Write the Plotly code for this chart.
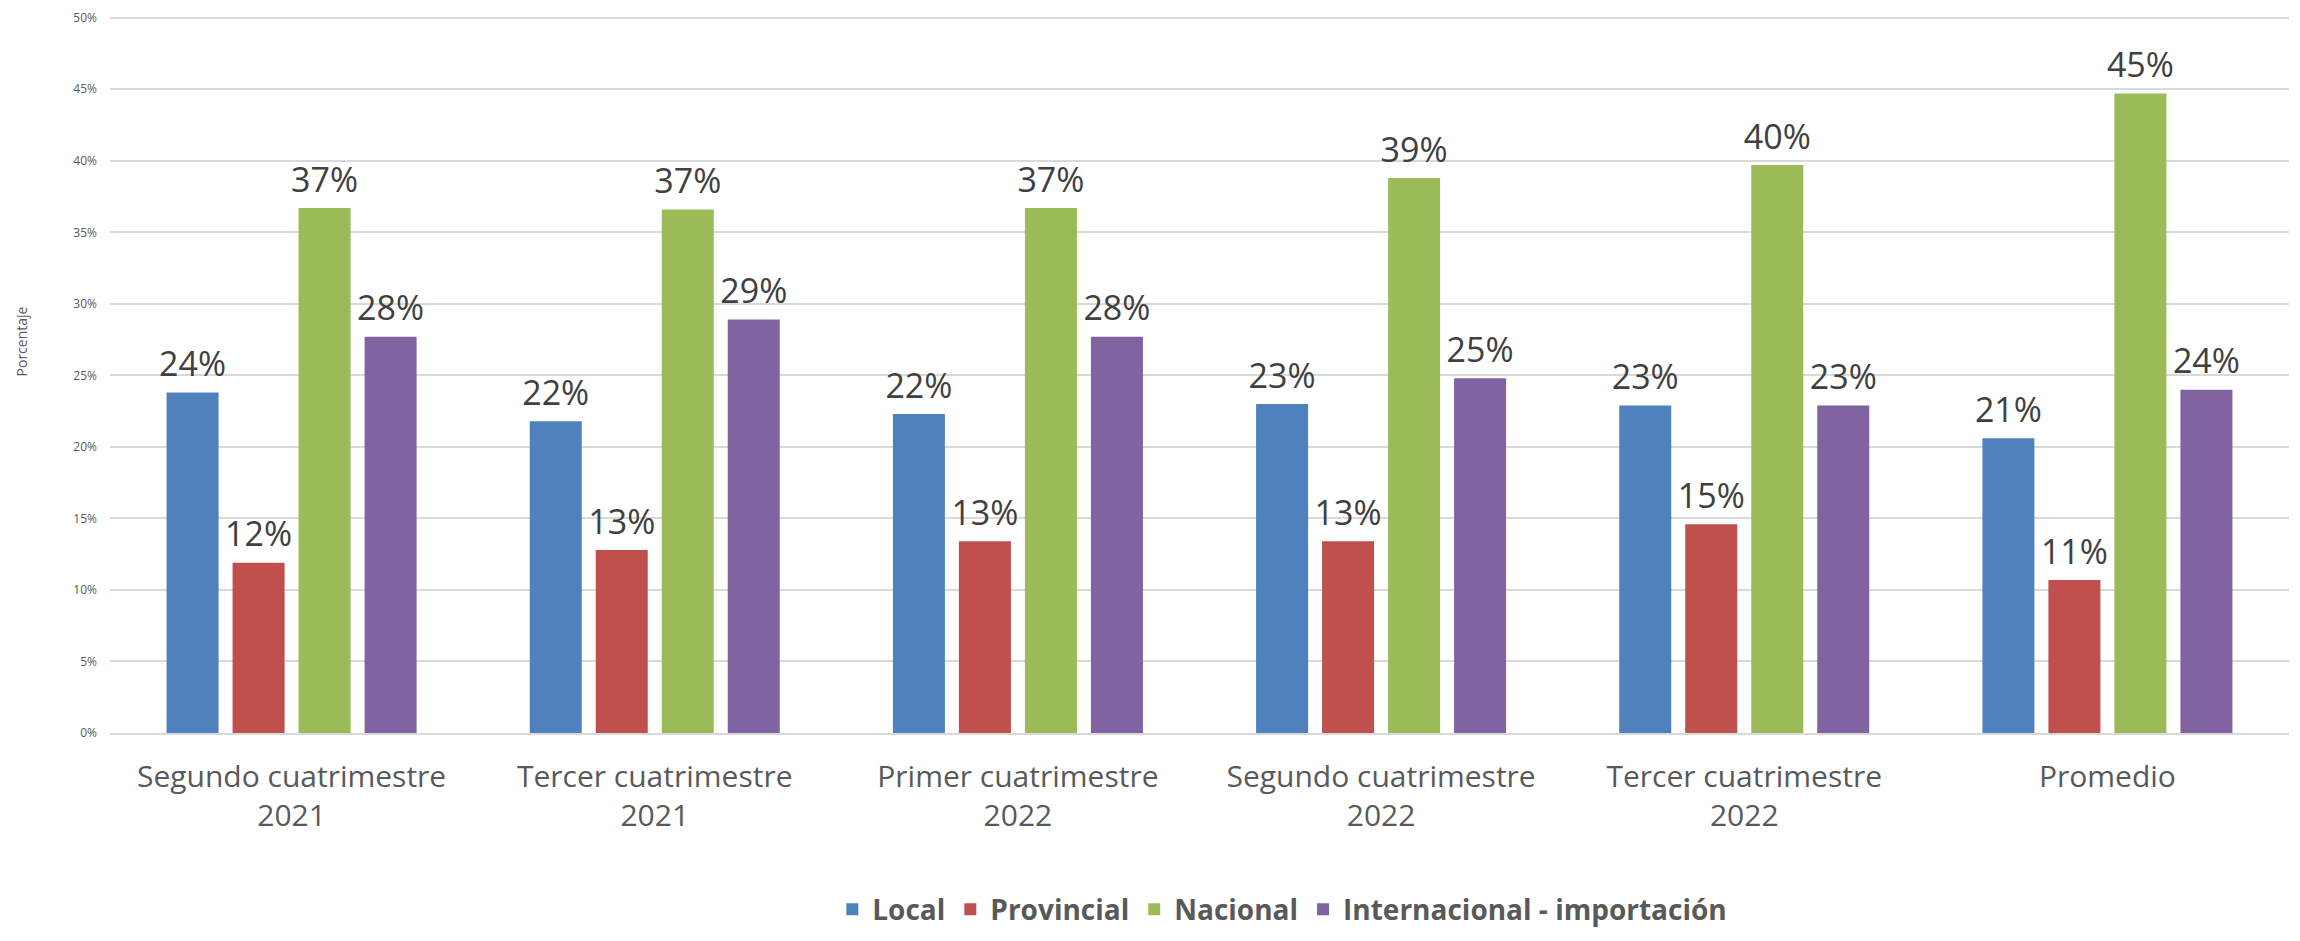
import plotly.graph_objects as go

categories = [
    "Segundo cuatrimestre<br>2021",
    "Tercer cuatrimestre<br>2021",
    "Primer cuatrimestre<br>2022",
    "Segundo cuatrimestre<br>2022",
    "Tercer cuatrimestre<br>2022",
    "Promedio",
]
local = [0.238, 0.218, 0.223, 0.230, 0.229, 0.206]
provincial = [0.119, 0.128, 0.134, 0.134, 0.146, 0.107]
nacional = [0.367, 0.366, 0.367, 0.388, 0.397, 0.447]
internacional = [0.277, 0.289, 0.277, 0.248, 0.229, 0.240]
y_ticks = [0.0, 0.05, 0.10, 0.15, 0.20, 0.25, 0.30, 0.35, 0.40, 0.45, 0.50]

series = [
    ("Local", local, "#4F81BD"),
    ("Provincial", provincial, "#C0504D"),
    ("Nacional", nacional, "#9BBB59"),
    ("Internacional - importación", internacional, "#8064A2"),
]

BARGAP = 0.273
fig = go.Figure()
for name, vals, color in series:
    fig.add_trace(go.Bar(
        x=categories, y=vals, name=name,
        marker=dict(color=color, line=dict(width=0)),
        offsetgroup=name,
        hoverinfo="skip",
    ))
for name, vals, color in series:
    fig.add_trace(go.Scatter(
        x=categories, y=vals, mode="markers+text",
        text=[f"{round(v * 100):d}%" for v in vals],
        textposition="top center",
        textfont=dict(family="Open Sans", size=34, color="#404040"),
        marker=dict(size=11, opacity=0),
        offsetgroup=name,
        showlegend=False, hoverinfo="skip", cliponaxis=False,
    ))

fig.update_layout(
    width=2284, height=925,
    margin=dict(l=102, r=3, t=4, b=200, autoexpand=False),
    paper_bgcolor="white", plot_bgcolor="white",
    barmode="group", bargap=BARGAP, bargroupgap=0.212,
    scattermode="group", scattergap=BARGAP,
    font=dict(family="Open Sans", color="#595959"),
    showlegend=True,
    legend=dict(
        orientation="h", x=0.538, xanchor="center", y=-0.245, yanchor="middle",
        font=dict(family="Open Sans", size=28, color="#595959", weight="bold"),
        itemsizing="constant", traceorder="normal",
    ),
    xaxis=dict(
        type="category",
        tickfont=dict(family="Open Sans", size=30, color="#595959"),
        showgrid=False, ticks="", ticklabelstandoff=16,
        showline=True, linecolor="#d9d9d9", linewidth=2,
    ),
    yaxis=dict(
        range=[0, 0.504], tickmode="array", tickvals=y_ticks, tickformat=".0%",
        tickfont=dict(family="Open Sans", size=12, color="#595959"),
        showgrid=True, gridcolor="#d9d9d9", gridwidth=2,
        zeroline=False, ticks="", ticklabelstandoff=12,
    ),
    annotations=[dict(
        text="Porcentaje", xref="paper", yref="paper",
        x=-0.0404, y=0.543, xanchor="center", yanchor="middle",
        textangle=-90, showarrow=False,
        font=dict(family="Open Sans", size=14, color="#595959"),
    )],
)

fig.write_html("out.html")
